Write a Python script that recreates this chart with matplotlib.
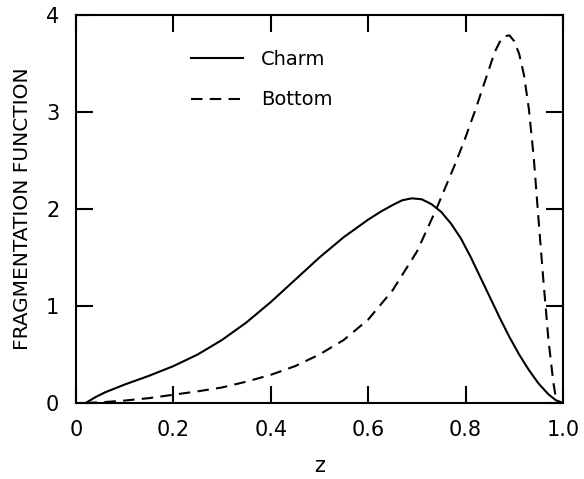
import numpy as np
import matplotlib
matplotlib.use('Agg')
import matplotlib.pyplot as plt

# Fragmentation functions
charm_z = [0.02, 0.04, 0.06, 0.08, 0.10, 0.125, 0.15, 0.175, 0.20, 0.25, 0.30, 0.35,
           0.40, 0.45, 0.50, 0.55, 0.60, 0.625, 0.65, 0.67, 0.69, 0.71, 0.73, 0.75,
           0.77, 0.79, 0.81, 0.83, 0.85, 0.87, 0.89, 0.91, 0.93, 0.95, 0.97, 0.985,
           1.00]
charm_d = [0.0, 0.06, 0.11, 0.15, 0.19, 0.235, 0.28, 0.33, 0.38, 0.50, 0.65, 0.83,
           1.04, 1.27, 1.50, 1.71, 1.89, 1.97, 2.04, 2.09, 2.11, 2.10, 2.05, 1.97,
           1.85, 1.70, 1.51, 1.30, 1.09, 0.88, 0.68, 0.50, 0.34, 0.20, 0.09, 0.03,
           0.0]

bottom_z = [0.02, 0.06, 0.10, 0.15, 0.20, 0.25, 0.30, 0.35, 0.40, 0.45, 0.50, 0.55,
            0.60, 0.65, 0.70, 0.74, 0.78, 0.80, 0.82, 0.84, 0.86, 0.87, 0.88, 0.89,
            0.90, 0.91, 0.92, 0.93, 0.94, 0.95, 0.96, 0.97, 0.98, 0.987]
bottom_d = [0.0, 0.01, 0.025, 0.05, 0.085, 0.12, 0.16, 0.22, 0.29, 0.38, 0.50, 0.65,
            0.86, 1.16, 1.56, 2.00, 2.48, 2.74, 3.02, 3.32, 3.62, 3.72, 3.78, 3.79,
            3.73, 3.60, 3.38, 3.03, 2.53, 1.88, 1.25, 0.66, 0.22, 0.0]

x_ticks = [0, 0.2, 0.4, 0.6, 0.8, 1.0]
x_tick_labels = ['0', '0.2', '0.4', '0.6', '0.8', '1.0']
y_ticks = [0, 1, 2, 3, 4]

plt.rcParams['font.family'] = ['DejaVu Sans']

fig = plt.figure(figsize=(5.84, 4.79), dpi=100)
ax = fig.add_axes([0.130, 0.1587, 0.834, 0.810])

ax.plot(charm_z, charm_d, color='black', lw=1.5, label='Charm',
        solid_joinstyle='round')
ax.plot(bottom_z, bottom_d, color='black', lw=1.5, dashes=(5.5, 3.5), label='Bottom')

ax.set_xlim(0, 1)
ax.set_ylim(0, 4)
ax.set_xticks(x_ticks)
ax.set_xticklabels(x_tick_labels)
ax.set_yticks(y_ticks)

for s in ax.spines.values():
    s.set_linewidth(1.5)
ax.tick_params(direction='in', length=12, width=1.5, top=True, right=True,
               labelsize=15, pad=12)

ax.set_xlabel('z', fontsize=15, labelpad=12)
ax.set_ylabel('FRAGMENTATION FUNCTION', fontsize=14.5, labelpad=10)

ax.legend(loc='upper left', bbox_to_anchor=(0.2, 0.955), frameon=False,
          fontsize=14, handlelength=2.7, labelspacing=1.1, handletextpad=0.9)

plt.savefig('out.png', dpi=100)
plt.close()
